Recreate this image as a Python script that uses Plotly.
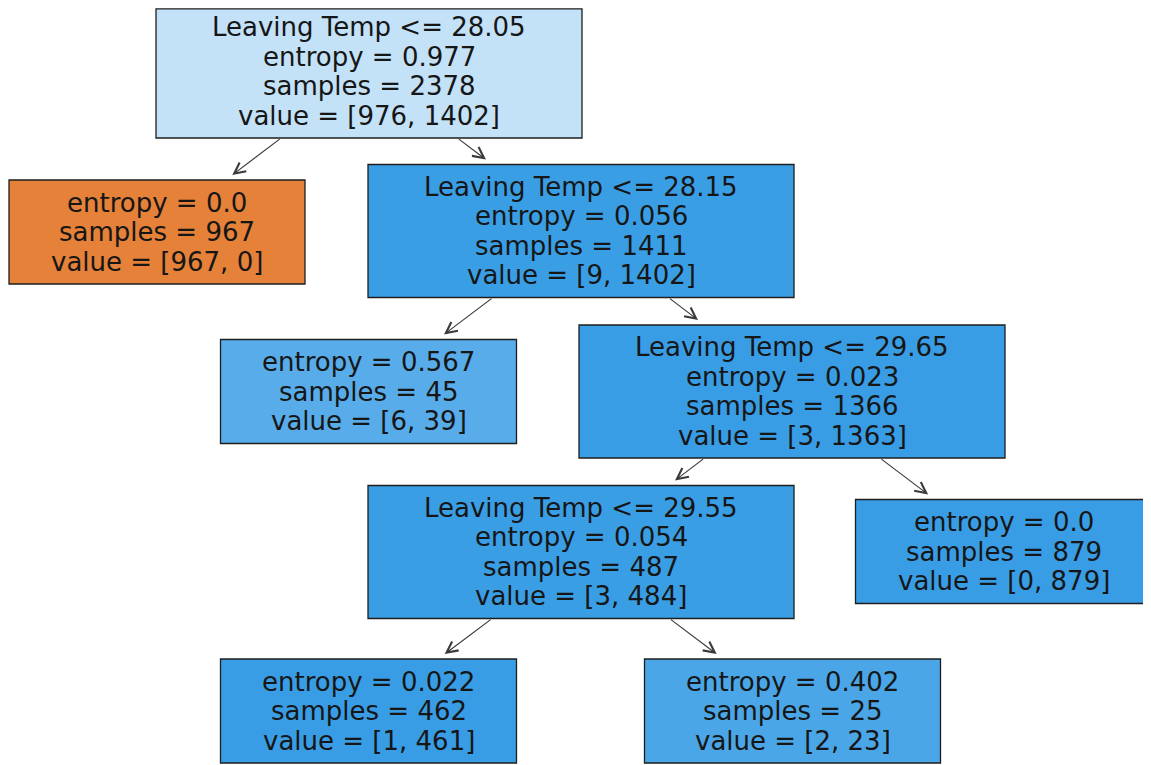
import plotly.graph_objects as go

# ---- tree data (sklearn-style, preorder) ----
feature_name = "Leaving Temp"
thresholds = [28.05, None, 28.15, None, 29.65, 29.55, None, None, None]
entropies = ["0.977", "0.0", "0.056", "0.567", "0.023", "0.054", "0.022", "0.402", "0.0"]
samples = [2378, 967, 1411, 45, 1366, 487, 462, 25, 879]
values = [[976, 1402], [967, 0], [9, 1402], [6, 39], [3, 1363], [3, 484], [1, 461], [2, 23], [0, 879]]
edges = [(0, 1), (0, 2), (2, 3), (2, 4), (4, 5), (4, 8), (5, 6), (5, 7)]

# ---- layout (pixel positions of node centres, in page pixels) ----
pos = {0: (369, 71.5), 1: (157, 232), 2: (581, 231), 3: (368.5, 391.5), 4: (792, 391.5),
       5: (581, 552), 6: (368.5, 711), 7: (792.5, 711), 8: (1003.5, 551.5)}
PAGE_W, PAGE_H = 1151, 765
BODY_MARGIN = 8  # default browser body margin
INNER_W, INNER_H = 426, 133
LEAF_W, LEAF_H = 296, 104
LINE_GAP = 29.5
FONT = dict(family="DejaVu Sans", size=26, color="#161616")

class_rgb = [(229, 129, 57), (57, 157, 229)]


def node_color(v):
    tot = sum(v)
    p = [x / tot for x in v]
    k = p.index(max(p))
    s = sorted(p, reverse=True)
    alpha = (s[0] - s[1]) / (1 - s[1]) if s[1] < 1 else 0
    c = [int(round(alpha * ch + (1 - alpha) * 255)) for ch in class_rgb[k]]
    return "rgb(%d,%d,%d)" % tuple(c)


fig = go.Figure()
shapes = []
annotations = []

box = {}
for i in range(len(samples)):
    cx, cy = pos[i]
    leaf = thresholds[i] is None
    w, h = (LEAF_W, LEAF_H) if leaf else (INNER_W, INNER_H)
    x0, x1, y0, y1 = cx - w / 2, cx + w / 2, cy - h / 2, cy + h / 2
    box[i] = (x0, x1, y0, y1)
    shapes.append(dict(type="rect", xref="x", yref="y", x0=x0, x1=min(x1, PAGE_W - 1.2),
                       y0=max(y0, BODY_MARGIN + 0.8), y1=y1,
                       fillcolor=node_color(values[i]), line=dict(color="#1e1e1e", width=1.3),
                       layer="below"))
    lines = []
    if not leaf:
        lines.append("%s &lt;= %s" % (feature_name, thresholds[i]))
    lines.append("entropy = %s" % entropies[i])
    lines.append("samples = %d" % samples[i])
    lines.append("value = [%d, %d]" % tuple(values[i]))
    n = len(lines)
    for j, t in enumerate(lines):
        annotations.append(dict(x=cx, y=cy + (j - (n - 1) / 2) * LINE_GAP, xref="x", yref="y",
                                text=t, showarrow=False, font=FONT,
                                xanchor="center", yanchor="middle"))

for p, c in edges:
    px, py = pos[p]
    cx, cy = pos[c]
    slope = (cx - px) / (cy - py)
    ys = box[p][3]
    ye = box[c][2] - 5
    xs = px + slope * (ys - py)
    xe = px + slope * (ye - py)
    annotations.append(dict(x=xe, y=ye, ax=xs, ay=ys, xref="x", yref="y", axref="x", ayref="y",
                            text="", showarrow=True, arrowhead=5, arrowsize=1.8, arrowwidth=1.2,
                            arrowcolor="#3a3a3a", standoff=0, startstandoff=0))

fig.update_layout(
    width=PAGE_W - BODY_MARGIN, height=PAGE_H - BODY_MARGIN, autosize=False,
    margin=dict(l=0, r=0, t=0, b=0),
    paper_bgcolor="white", plot_bgcolor="white",
    xaxis=dict(range=[BODY_MARGIN, PAGE_W], visible=False, fixedrange=True),
    yaxis=dict(range=[PAGE_H, BODY_MARGIN], visible=False, fixedrange=True),
    shapes=shapes, annotations=annotations, showlegend=False,
)

fig.write_html("out.html")
